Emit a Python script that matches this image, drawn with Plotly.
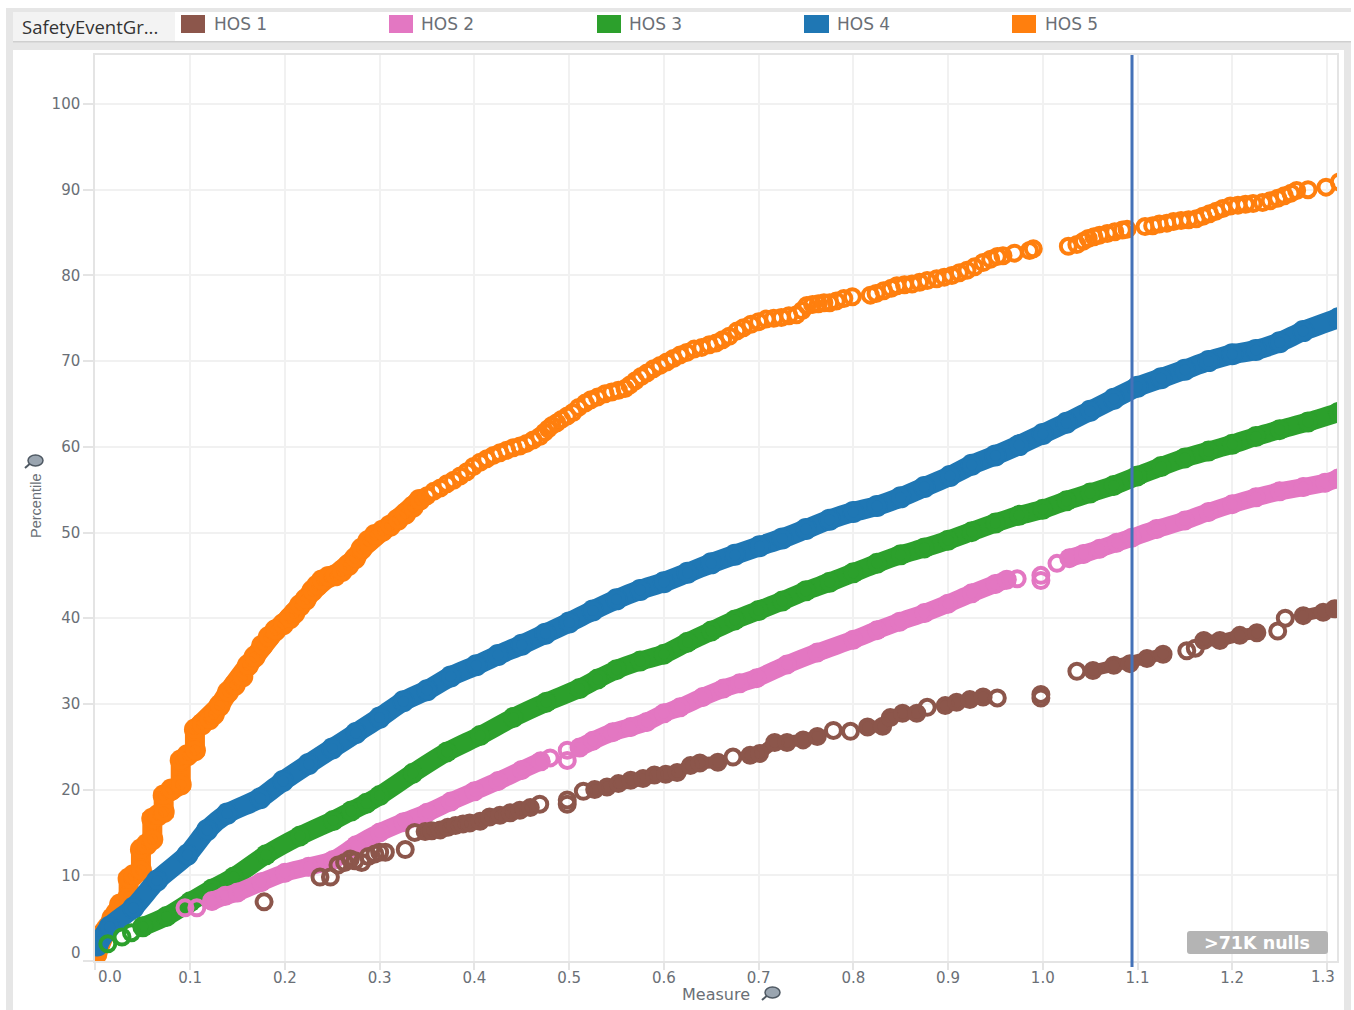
import plotly.graph_objects as go

W, H = 1354, 1010
L, R, T, B = 95, 1337, 55, 961

series_names = ["HOS 1", "HOS 2", "HOS 3", "HOS 4", "HOS 5"]
series_colors = ["#8c564b", "#e377c2", "#2ca02c", "#1f77b4", "#ff7f0e"]

hos1_x = [0.178, 0.237, 0.248, 0.256, 0.263, 0.269, 0.274, 0.281, 0.288, 0.295, 0.300, 0.306, 0.327,
          0.337, 0.348, 0.355, 0.364, 0.372, 0.380, 0.388, 0.395, 0.406, 0.416, 0.427, 0.438, 0.448, 0.459, 0.469,
          0.498, 0.498, 0.515, 0.527, 0.540, 0.552, 0.565, 0.578, 0.590, 0.602, 0.614, 0.628, 0.638, 0.657, 0.673,
          0.691, 0.701, 0.717, 0.730, 0.747, 0.762, 0.779, 0.797, 0.815, 0.831, 0.839, 0.852, 0.867, 0.878, 0.897,
          0.909, 0.923, 0.937, 0.952, 0.998, 0.998,
          1.036, 1.053, 1.075, 1.092, 1.110, 1.127, 1.152, 1.161, 1.170, 1.187, 1.208, 1.226, 1.248, 1.256,
          1.275, 1.296, 1.308]
hos1_y = [6.9, 9.8, 9.8, 11.2, 11.5, 11.9, 11.7, 11.5, 12.2, 12.5, 12.7, 12.7, 13.0,
          15.0, 15.1, 15.2, 15.3, 15.6, 15.8, 16.0, 16.1, 16.3, 16.8, 17.0, 17.3, 17.6, 17.9, 18.3,
          18.3, 18.8, 19.8, 20.0, 20.3, 20.7, 21.1, 21.3, 21.7, 21.8, 22.0, 22.8, 23.1, 23.2, 23.8,
          24.0, 24.2, 25.5, 25.5, 25.8, 26.2, 26.9, 26.8, 27.3, 27.4, 28.4, 28.9, 28.9, 29.6, 29.8,
          30.2, 30.5, 30.8, 30.7, 30.7, 31.1,
          33.8, 33.9, 34.5, 34.7, 35.3, 35.8, 36.2, 36.5, 37.4, 37.4, 38.0, 38.3, 38.5, 40.0,
          40.3, 40.7, 41.1]
hos1_solid = [(0.345, 0.46), (0.525, 0.66), (0.69, 0.77), (0.815, 0.868), (0.895, 0.94), (1.05, 1.15), (1.17, 1.23), (1.26, 1.32)]

hos2_x = [0.0945, 0.107, 0.123, 0.137, 0.150, 0.175, 0.200, 0.225, 0.251, 0.275, 0.300, 0.325, 0.350, 0.375,
          0.400, 0.425, 0.450, 0.470, 0.480, 0.498, 0.498, 0.511, 0.525, 0.546, 0.565, 0.582, 0.600, 0.617, 0.641,
          0.663, 0.680, 0.698, 0.730, 0.762, 0.800, 0.825, 0.849, 0.875, 0.900, 0.925, 0.950, 0.962, 0.973, 0.998, 0.998,
          1.015, 1.028, 1.043, 1.060, 1.078, 1.094, 1.120, 1.150, 1.175, 1.200, 1.225, 1.250, 1.275, 1.298, 1.312]
hos2_y = [6.2, 6.2, 7.0, 7.6, 8.0, 9.2, 10.3, 11.0, 11.8, 13.5, 15.0, 16.2, 17.3, 18.6,
          19.8, 21.0, 22.3, 23.3, 23.7, 23.4, 24.6, 24.9, 25.7, 26.7, 27.3, 27.9, 28.9, 29.6, 30.8,
          31.8, 32.4, 33.0, 34.6, 36.0, 37.5, 38.6, 39.6, 40.6, 41.7, 42.9, 44.0, 44.5, 44.6, 44.4, 45.0,
          46.4, 47.0, 47.5, 48.1, 48.8, 49.4, 50.4, 51.4, 52.4, 53.3, 54.1, 54.8, 55.3, 55.8, 56.3]
hos2_solid = [(0.12, 0.475), (0.505, 0.965), (1.02, 1.32)]

hos3_x = [0.013, 0.028, 0.038, 0.050, 0.075, 0.100, 0.123, 0.146, 0.180, 0.216, 0.251, 0.270, 0.286, 0.300, 0.335, 0.371,
          0.406, 0.441, 0.476, 0.511, 0.530, 0.550, 0.575, 0.600, 0.625, 0.650, 0.675, 0.700, 0.725, 0.750, 0.775,
          0.800, 0.825, 0.850, 0.875, 0.900, 0.925, 0.950, 0.975, 1.000, 1.025,
          1.050, 1.075, 1.100, 1.125, 1.150, 1.175, 1.200, 1.225, 1.250, 1.280, 1.312]
hos3_y = [2.0, 2.8, 3.3, 4.0, 5.2, 6.9, 8.4, 9.8, 12.4, 14.6, 16.4, 17.5, 18.4, 19.3, 21.9, 24.4,
          26.3, 28.4, 30.2, 31.8, 32.9, 34.0, 35.0, 35.8, 37.2, 38.5, 39.8, 40.9, 42.0, 43.2, 44.2,
          45.3, 46.4, 47.4, 48.2, 49.1, 50.1, 51.1, 52.0, 52.7, 53.7,
          54.6, 55.5, 56.6, 57.7, 58.7, 59.5, 60.3, 61.2, 62.0, 62.9, 64.0]
hos3_solid = [(0.045, 1.32)]

hos4_x = [0.002, 0.015, 0.040, 0.065, 0.097, 0.118, 0.139, 0.174, 0.198, 0.225, 0.250, 0.275, 0.300, 0.325, 0.350, 0.375,
          0.402, 0.425, 0.450, 0.475, 0.500, 0.525, 0.550, 0.575, 0.600, 0.625, 0.650, 0.675, 0.701, 0.725, 0.750,
          0.775, 0.800, 0.825, 0.850, 0.875, 0.902, 0.925, 0.950, 0.975, 1.000, 1.025, 1.050, 1.075, 1.100, 1.125,
          1.150, 1.175, 1.200, 1.225, 1.250, 1.275, 1.312]
hos4_y = [1.8, 4.0, 6.2, 9.4, 12.4, 15.3, 17.2, 19.0, 21.0, 23.0, 24.8, 26.6, 28.4, 30.3, 31.6, 33.2,
          34.5, 35.7, 36.9, 38.2, 39.5, 40.9, 42.2, 43.3, 44.2, 45.3, 46.4, 47.4, 48.4, 49.3, 50.4,
          51.5, 52.4, 53.1, 54.1, 55.3, 56.6, 57.9, 59.0, 60.2, 61.5, 62.8, 64.2, 65.6, 67.0, 68.0,
          69.0, 70.0, 70.8, 71.3, 72.2, 73.5, 75.0]
hos4_solid = [(0.0, 1.32)]

hos5_x = [0.001, 0.004, 0.008, 0.012, 0.018, 0.022, 0.026, 0.035, 0.035, 0.040, 0.048, 0.048, 0.054, 0.060, 0.060,
          0.066, 0.072, 0.072, 0.080, 0.090, 0.090, 0.097, 0.105, 0.105, 0.112, 0.120, 0.125, 0.131, 0.140, 0.147,
          0.155, 0.161, 0.168, 0.176, 0.183, 0.190, 0.198, 0.205, 0.210, 0.216, 0.222, 0.229, 0.234, 0.239, 0.246,
          0.253, 0.260, 0.267, 0.274, 0.281, 0.288, 0.295, 0.303, 0.311, 0.319, 0.327, 0.335, 0.342,
          0.350, 0.357, 0.364, 0.371, 0.378, 0.385, 0.392, 0.399, 0.406, 0.413, 0.420, 0.427, 0.434, 0.441, 0.448,
          0.455, 0.462, 0.469, 0.474, 0.478, 0.482, 0.487, 0.492, 0.498, 0.504, 0.510, 0.517, 0.523, 0.530, 0.538,
          0.545, 0.552, 0.559, 0.564, 0.570, 0.576, 0.582, 0.589, 0.596, 0.603, 0.610, 0.617, 0.624, 0.632, 0.640,
          0.648, 0.655, 0.662, 0.669, 0.677, 0.684, 0.692, 0.700, 0.708, 0.716, 0.724, 0.732, 0.740, 0.746, 0.751,
          0.757, 0.763, 0.769, 0.775, 0.782, 0.790, 0.799,
          0.818, 0.824, 0.832, 0.840, 0.846, 0.854, 0.862, 0.870, 0.878, 0.888, 0.896, 0.904, 0.912, 0.920, 0.928,
          0.937, 0.945, 0.952, 0.958, 0.970, 0.986, 0.990,
          1.027, 1.036, 1.043, 1.048, 1.054, 1.060, 1.068, 1.076, 1.084, 1.089,
          1.108, 1.116, 1.123, 1.131, 1.138, 1.146, 1.154, 1.162, 1.169, 1.176, 1.183, 1.190, 1.198, 1.206, 1.214,
          1.222, 1.232, 1.240, 1.248, 1.255, 1.262, 1.268, 1.280, 1.299, 1.313]
hos5_y = [0.8, 2.0, 3.2, 3.8, 5.0, 5.6, 6.6, 7.5, 9.6, 10.0, 10.6, 13.0, 13.6, 14.2, 16.6,
          17.0, 17.4, 19.3, 20.0, 20.6, 23.4, 24.0, 24.6, 27.0, 27.6, 28.2, 28.8, 29.8, 31.4, 32.2,
          33.2, 34.5, 35.5, 36.8, 37.8, 38.6, 39.3, 40.0, 40.6, 41.5, 42.2, 43.2, 43.8, 44.4, 44.8,
          45.0, 45.5, 46.2, 47.0, 48.1, 49.0, 49.7, 50.2, 50.8, 51.5, 52.2, 53.0, 53.8,
          54.3, 54.8, 55.2, 55.7, 56.1, 56.6, 57.1, 57.7, 58.2, 58.6, 59.0, 59.3, 59.6, 59.9, 60.1,
          60.4, 60.8, 61.2, 61.7, 62.1, 62.5, 62.8, 63.2, 63.6, 64.0, 64.6, 65.1, 65.5, 65.8, 66.2,
          66.4, 66.6, 66.8, 67.2, 67.7, 68.2, 68.6, 69.1, 69.5, 69.9, 70.3, 70.7, 71.0, 71.4, 71.6,
          71.9, 72.1, 72.5, 72.9, 73.5, 73.9, 74.3, 74.6, 74.9, 75.0, 75.1, 75.3, 75.4, 75.9, 76.5,
          76.6, 76.7, 76.8, 76.8, 77.0, 77.3, 77.5,
          77.7, 77.9, 78.2, 78.5, 78.8, 78.9, 79.0, 79.2, 79.4, 79.6, 79.8, 80.0, 80.3, 80.6, 81.0,
          81.5, 81.9, 82.2, 82.3, 82.6, 82.9, 83.1,
          83.4, 83.6, 84.0, 84.3, 84.5, 84.7, 84.9, 85.1, 85.3, 85.4,
          85.7, 85.8, 86.0, 86.1, 86.3, 86.4, 86.5, 86.6, 86.9, 87.2, 87.5, 87.8, 88.1, 88.2, 88.3,
          88.4, 88.5, 88.7, 89.0, 89.3, 89.6, 89.9, 90.0, 90.3, 90.9]
hos5_solid = [(0.0, 0.346)]

reference_x = 1.0942
x_ticks = [0.0, 0.1, 0.2, 0.3, 0.4, 0.5, 0.6, 0.7, 0.8, 0.9, 1.0, 1.1, 1.2, 1.3]
x_tick_labels = ["", "0.1", "0.2", "0.3", "0.4", "0.5", "0.6", "0.7", "0.8", "0.9", "1.0", "1.1", "1.2", ""]
y_ticks = [0, 10, 20, 30, 40, 50, 60, 70, 80, 90, 100]
y_tick_labels = ["", "10", "20", "30", "40", "50", "60", "70", "80", "90", "100"]

GRID = "#f1f1f1"
FRAME = "#e4e4e4"
TEXT = "#6a6f76"
BAND = "#e6e6e6"


def fx(p):
    return (p - L) / (R - L)


def fy(p):
    return (B - p) / (B - T)


def rect(x0, y0, x1, y1, color, layer="below"):
    return dict(type="rect", xref="paper", yref="paper", x0=fx(x0), x1=fx(x1), y0=fy(y0), y1=fy(y1),
                fillcolor=color, line=dict(width=0), layer=layer)


def rounded(x0, y0, x1, y1, r, color):
    a, b, c, d = fx(x0), fx(x1), fy(y0), fy(y1)
    rx, ry = r / (R - L), r / (B - T)
    path = (f"M{a + rx},{c} L{b - rx},{c} Q{b},{c} {b},{c - ry} L{b},{d + ry} Q{b},{d} {b - rx},{d} "
            f"L{a + rx},{d} Q{a},{d} {a},{d + ry} L{a},{c - ry} Q{a},{c} {a + rx},{c} Z")
    return dict(type="path", xref="paper", yref="paper", path=path, fillcolor=color, line=dict(width=0), layer="above")


def note(px, py, text, size=15, color=TEXT, family="DejaVu Sans", anchor="center", angle=0):
    return dict(xref="paper", yref="paper", x=fx(px), y=fy(py), text=text, showarrow=False, xanchor=anchor,
                yanchor="middle", textangle=angle, font=dict(family=family, size=size, color=color))


def pin(px, py):
    # small drawing-pin icon beside an axis title
    return [
        dict(type="line", xref="paper", yref="paper", x0=fx(px - 8), y0=fy(py + 7), x1=fx(px), y1=fy(py),
             line=dict(color="#4f5963", width=2), layer="above"),
        dict(type="circle", xref="paper", yref="paper", x0=fx(px - 5), x1=fx(px + 10), y0=fy(py - 6), y1=fy(py + 5),
             fillcolor="#9aa5b0", line=dict(color="#4f5963", width=1.5), layer="above"),
    ]


def solid_trace(xs, ys, ranges):
    bx, by = [], []
    for a, b in ranges:
        for x, y in zip(xs, ys):
            if a <= x <= b:
                bx.append(x)
                by.append(y)
        bx.append(None)
        by.append(None)
    return bx, by


fig = go.Figure()

draw = [
    (4, hos5_x, hos5_y, hos5_solid, 20, "linear"),
    (3, hos4_x, hos4_y, hos4_solid, 20, "spline"),
    (2, hos3_x, hos3_y, hos3_solid, 19, "spline"),
    (1, hos2_x, hos2_y, hos2_solid, 18, "spline"),
    (0, hos1_x, hos1_y, hos1_solid, 12, "linear"),
]
for idx, xs, ys, solid, lw, shape in draw:
    color = series_colors[idx]
    bx, by = solid_trace(xs, ys, solid)
    fig.add_trace(go.Scatter(x=bx, y=by, mode="lines+markers",
                             line=dict(color=color, width=lw, shape=shape, smoothing=0.7),
                             marker=dict(symbol="circle", size=lw + 2, color=color),
                             hoverinfo="skip", showlegend=False, name=series_names[idx] + " band"))
    fig.add_trace(go.Scatter(x=xs, y=ys, mode="markers", name=series_names[idx], showlegend=False,
                             marker=dict(symbol="circle-open", size=15, color=color, line=dict(color=color, width=4))))

shapes = [
    rect(6, 8, 1351, 50, BAND),
    rect(6, 8, 13, 1010, BAND),
    rect(1344, 8, 1351, 1010, BAND),
    rect(13, 50, 1344, 1010, "#ffffff"),
    rect(13, 12, 175, 41, "#f3f3f3"),
    rect(175, 12, 1351, 41, "#ffffff"),
    rect(13, 41, 1351, 42.5, "#cfcfcf"),
    rect(181, 15, 205, 33, series_colors[0]),
    rect(389, 15, 413, 33, series_colors[1]),
    rect(597, 15, 621, 33, series_colors[2]),
    rect(804, 15, 829, 33, series_colors[3]),
    rect(1012, 15, 1036, 33, series_colors[4]),
    dict(type="line", xref="x", yref="paper", x0=reference_x, x1=reference_x, y0=fy(967), y1=1,
         line=dict(color="#4472b8", width=3), layer="above"),
    rounded(1187, 931, 1328, 954, 3, "#b4b4b4"),
] + pin(33, 461) + pin(770, 993)

annotations = [
    note(20, 26.5, "SafetyEventGr...", size=18.5, color="#333333", family="Open Sans", anchor="left"),
    note(212, 24.5, series_names[0], size=17, anchor="left"),
    note(419, 24.5, series_names[1], size=17, anchor="left"),
    note(627, 24.5, series_names[2], size=17, anchor="left"),
    note(835, 24.5, series_names[3], size=17, anchor="left"),
    note(1043, 24.5, series_names[4], size=17, anchor="left"),
    note(110, 977, "0.0"),
    note(1323, 977, "1.3"),
    note(83, 953, "0", anchor="right"),
    note(715.5, 994.5, "Measure", size=16),
    note(36, 506, "Percentile", size=14.5, family="Liberation Sans Narrow, Liberation Sans", angle=-90),
    note(1257, 942.5, "<b>&gt;71K nulls</b>", size=17.5, color="#ffffff"),
]

axis_common = dict(
    showgrid=True, gridcolor=GRID, gridwidth=1.5, zeroline=False, showline=True, linecolor=FRAME, linewidth=1.5,
    mirror=True, ticks="outside", tickcolor=FRAME, tickwidth=1.5,
    tickfont=dict(family="DejaVu Sans", size=15, color=TEXT), tickmode="array",
)

fig.update_layout(
    width=W, height=H, autosize=False, showlegend=False,
    margin=dict(l=L, r=W - R, t=T, b=H - B, pad=0, autoexpand=False),
    paper_bgcolor="#ffffff", plot_bgcolor="#ffffff",
    xaxis=dict(range=[-0.0005, 1.3106], tickvals=x_ticks, ticktext=x_tick_labels, ticklen=7,
               ticklabelstandoff=-5, **axis_common),
    yaxis=dict(range=[0, 105.72], tickvals=y_ticks, ticktext=y_tick_labels, ticklen=10, **axis_common),
    shapes=shapes, annotations=annotations,
)

fig.write_html("out.html", config={"displayModeBar": False},
               post_script="document.body.style.margin='0';document.body.style.overflow='hidden';")
